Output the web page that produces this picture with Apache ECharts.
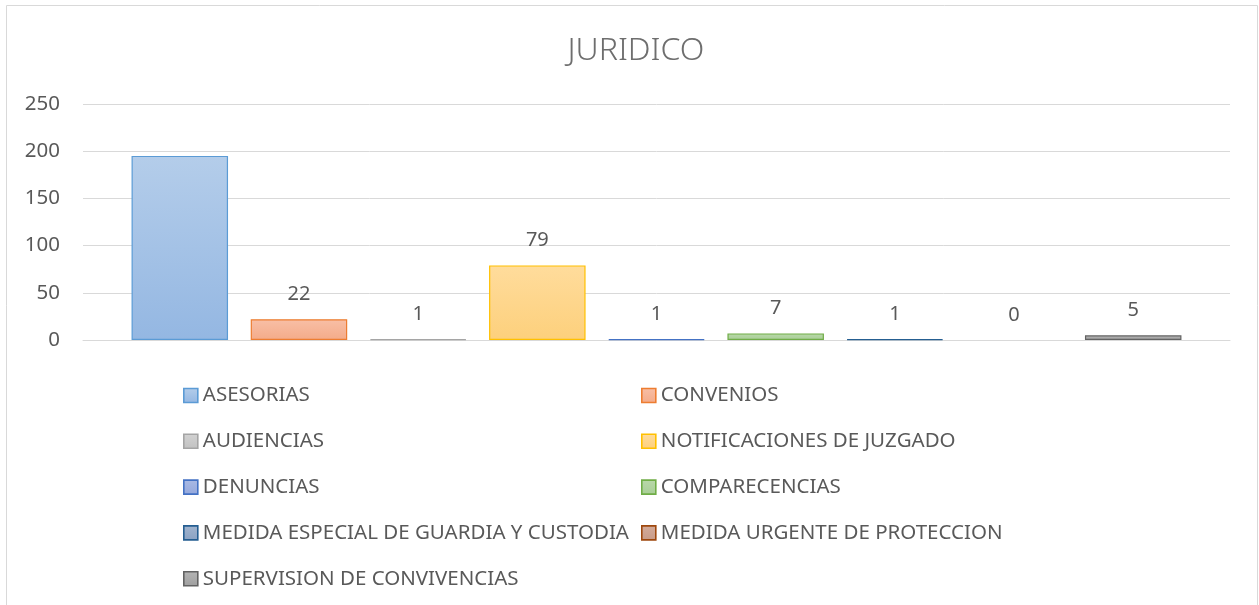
<!DOCTYPE html>
<html>
<head>
<meta charset="utf-8">
<script src="https://cdn.jsdelivr.net/npm/echarts@6/dist/echarts.min.js"></script>
<style>
  html, body { margin: 0; padding: 0; background: #fff; }
  #chart { width: 1259px; height: 605px; }
</style>
</head>
<body>
<div id="chart"></div>
<script>
// datos
const seriesNames = [
  'ASESORIAS', 'CONVENIOS', 'AUDIENCIAS', 'NOTIFICACIONES DE JUZGADO',
  'DENUNCIAS', 'COMPARECENCIAS', 'MEDIDA ESPECIAL DE GUARDIA Y CUSTODIA',
  'MEDIDA URGENTE DE PROTECCION', 'SUPERVISION DE CONVIVENCIAS'
];
const seriesValues = [195, 22, 1, 79, 1, 7, 1, 0, 5];
const yTicks = [0, 50, 100, 150, 200, 250];

// colores: [arriba, abajo, borde]
const palette = [
  ['#b4cdea', '#94b7e2', '#5b9bd5'],
  ['#f8bfa6', '#f4ab89', '#ed7d31'],
  ['#d2d2d2', '#c2c2c2', '#a5a5a5'],
  ['#ffdc9c', '#fdd07c', '#ffc000'],
  ['#aabae4', '#94a8dc', '#4472c4'],
  ['#b9d8aa', '#a8ce96', '#70ad47'],
  ['#a1b4ce', '#8ba2c3', '#255e91'],
  ['#d4ab9a', '#c89b87', '#9e480e'],
  ['#b5b5b5', '#9f9f9f', '#636363']
];

const txt = '#595959';
const font = '"Noto Sans", sans-serif';

const chart = echarts.init(document.getElementById('chart'));

const series = seriesNames.map((name, i) => ({
  name: name,
  type: 'bar',
  data: [{
    value: seriesValues[i],
    // una barra en cero no se dibuja
    itemStyle: seriesValues[i] === 0 ? { borderWidth: 0, opacity: 0 } : undefined
  }],
  barWidth: 96.5,
  barGap: '23.5%',
  itemStyle: {
    color: new echarts.graphic.LinearGradient(0, 0, 0, 1, [
      { offset: 0, color: palette[i][0] },
      { offset: 1, color: palette[i][1] }
    ]),
    borderColor: palette[i][2],
    borderWidth: 1.2
  },
  label: {
    show: i !== 0, // la etiqueta de ASESORIAS no aparece
    position: 'top',
    distance: 15,
    color: txt,
    fontFamily: font,
    fontSize: 20,
    opacity: 1
  },
  animation: false
}));

const leftNames = seriesNames.filter((n, i) => i % 2 === 0);
const rightNames = seriesNames.filter((n, i) => i % 2 === 1);

const legendBase = {
  orient: 'vertical',
  top: 385,
  padding: 0,
  icon: 'rect',
  itemWidth: 14,
  itemHeight: 14,
  itemGap: 24.8,
  selectedMode: false,
  itemStyle: { borderWidth: 1.6, opacity: 1 },
  textStyle: { color: txt, fontFamily: font, fontSize: 20.5, lineHeight: 20 }
};

chart.setOption({
  animation: false,
  title: {
    text: 'JURIDICO',
    left: 631,
    textAlign: 'center',
    top: 30,
    textStyle: { color: '#6e6e6e', fontFamily: font, fontSize: 32, fontWeight: 300 }
  },
  graphic: [{
    type: 'rect',
    shape: { x: 6.5, y: 5.5, width: 1251, height: 700 },
    style: { fill: 'none', stroke: '#d9d9d9', lineWidth: 1 },
    silent: true
  }],
  legend: [
    Object.assign({}, legendBase, { left: 183, data: leftNames }),
    Object.assign({}, legendBase, { left: 641, data: rightNames })
  ],
  grid: { left: 83, right: 29, top: 104, bottom: 265 },
  xAxis: {
    type: 'category',
    data: [''],
    axisLine: { lineStyle: { color: '#d9d9d9', width: 1 } },
    axisTick: { show: false },
    axisLabel: { show: false }
  },
  yAxis: {
    type: 'value',
    min: yTicks[0],
    max: yTicks[yTicks.length - 1],
    interval: 50,
    axisLine: { show: false },
    axisTick: { show: false },
    axisLabel: { color: txt, fontFamily: font, fontSize: 20.5, margin: 23 },
    splitLine: { lineStyle: { color: '#d9d9d9', width: 1 } }
  },
  series: series
});
</script>
</body>
</html>
